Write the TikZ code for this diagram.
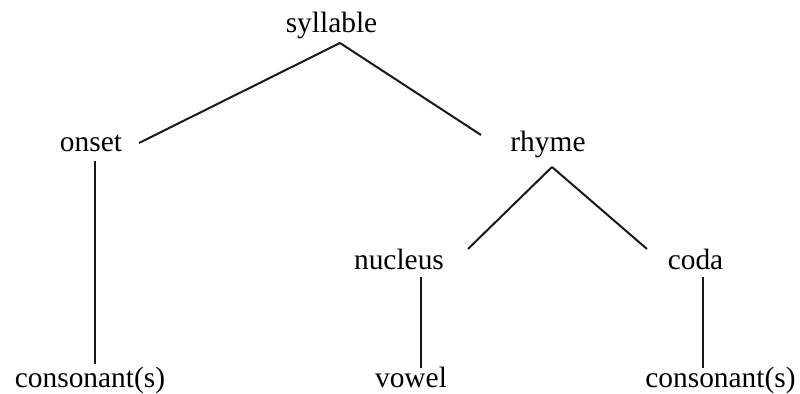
\documentclass[tikz,border=0pt]{standalone}
\usepackage{fontspec}
\setmainfont{Liberation Serif}
\begin{document}
\begin{tikzpicture}[x=0.5pt,y=-0.5pt,
  word/.style={anchor=base,inner sep=0pt,font=\fontsize{14.7pt}{17pt}\selectfont},
  branch/.style={line width=1pt,black!90}]
\useasboundingbox (0,0) rectangle (800,394);

% tree labels
\node[word] (syllable) at (331.5,33) {syllable};
\node[word] (onset)    at (91,152)   {onset};
\node[word] (rhyme)    at (548,152)  {rhyme};
\node[word] (nucleus)  at (399,270)  {nucleus};
\node[word] (coda)     at (695.5,270) {coda};
\node[word] (consA)    at (90,388)   {consonant(s)};
\node[word] (vowel)    at (411,388)  {vowel};
\node[word] (consB)    at (720.5,388) {consonant(s)};

% attachment points of the branches
\coordinate (syllable-foot) at (340,43);
\coordinate (onset-head)    at (139,143);
\coordinate (rhyme-head)    at (481,135);
\coordinate (onset-foot)    at (95,161);
\coordinate (consA-head)    at (95,364);
\coordinate (rhyme-foot)    at (552,167);
\coordinate (nucleus-head)  at (468,249);
\coordinate (coda-head)     at (647,249);
\coordinate (nucleus-foot)  at (421,277);
\coordinate (vowel-head)    at (421,368);
\coordinate (coda-foot)     at (703,277);
\coordinate (consB-head)    at (703,368);

% branches
\draw[branch] (syllable-foot) -- (onset-head);
\draw[branch] (syllable-foot) -- (rhyme-head);
\draw[branch] (onset-foot) -- (consA-head);
\draw[branch] (rhyme-foot) -- (nucleus-head);
\draw[branch] (rhyme-foot) -- (coda-head);
\draw[branch] (nucleus-foot) -- (vowel-head);
\draw[branch] (coda-foot) -- (consB-head);
\end{tikzpicture}
\end{document}
